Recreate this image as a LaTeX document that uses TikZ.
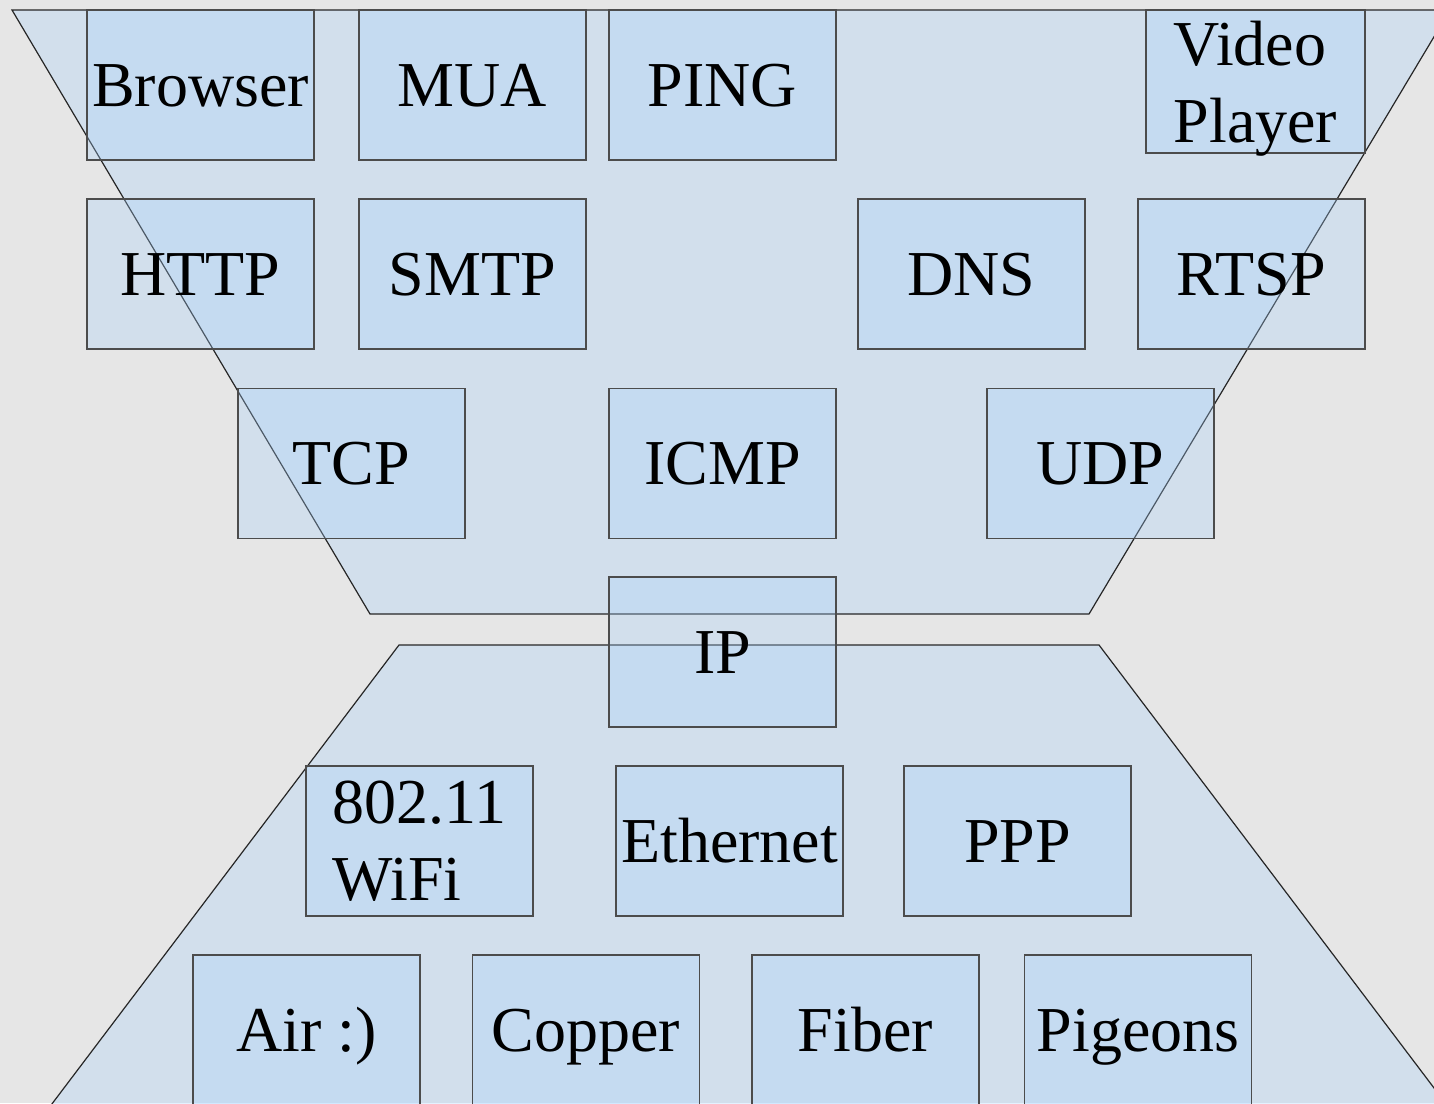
\documentclass[tikz,border=0pt]{standalone}
\usepackage{fontspec}
\setmainfont{Liberation Serif}
\definecolor{bgc}{RGB}{230,230,230}
\definecolor{layerc}{RGB}{167,210,253}
\begin{document}
\begin{tikzpicture}[x=1pt,y=-1pt,
  layer/.style={fill=layerc, fill opacity=0.3, draw=black!85, line width=1.2pt, line join=miter},
  protobase/.style={rectangle, fill=layerc, fill opacity=0.3, text opacity=1, draw=black!70,
    line width=1.2pt, minimum width=227pt, minimum height=150pt, inner sep=0pt,
    font=\fontsize{64}{77}\selectfont},
  proto/.style={protobase, text height=56pt, text depth=14pt}]
\useasboundingbox (0,0) rectangle (1434,1103);
\clip (0,0) rectangle (1434,1103);
\fill[bgc] (0,0) rectangle (1434,1103);
% layer trapezoids
\draw[layer] (12,10) -- (1450,10) -- (1089,614) -- (370,614) -- cycle;
\draw[layer] (399,645) -- (1099,645) -- (1462,1125) -- (36,1125) -- cycle;
% application
\node[proto] (browser) at (200.5,85) {Browser};
\node[proto] (mua) at (472.5,85) {MUA};
\node[proto] (ping) at (722.5,85) {PING};
\node[protobase, text depth=0pt, minimum width=219pt, minimum height=143pt] (video) at (1255.5,81.5)
  {\vbox{\baselineskip=77pt\hbox{Video}\hbox{Player}}};
\node[proto] (http) at (200.5,274) {HTTP};
\node[proto] (smtp) at (472.5,274) {SMTP};
\node[proto] (dns) at (971.5,274) {DNS};
\node[proto] (rtsp) at (1251.5,274) {RTSP};
% transport
\node[proto] (tcp) at (351.5,463.5) {TCP};
\node[proto] (icmp) at (722.5,463.5) {ICMP};
\node[proto] (udp) at (1100.5,463.5) {UDP};
% network
\node[proto] (ip) at (722.5,652) {IP};
% link
\node[protobase] (wifi) at (419.5,841)
  {\vbox{\baselineskip=77pt\hbox{802.11}\hbox{WiFi}}};
\node[proto] (ether) at (729.5,841) {Ethernet};
\node[proto] (ppp) at (1017.5,841) {PPP};
% physical
\node[proto] (air) at (306.5,1030) {Air :)};
\node[proto] (copper) at (586,1030) {Copper};
\node[proto] (fiber) at (865.5,1030) {Fiber};
\node[proto] (pigeons) at (1138,1030) {Pigeons};
\end{tikzpicture}
\end{document}
